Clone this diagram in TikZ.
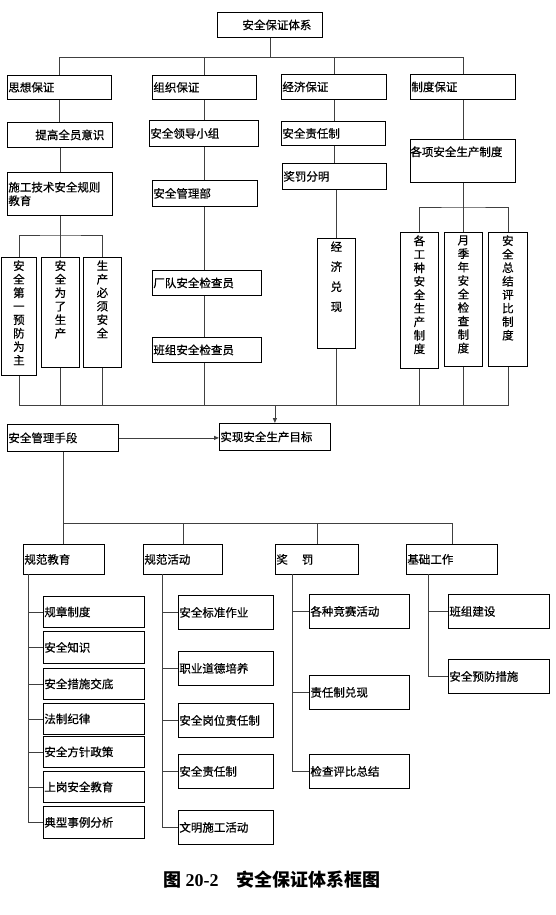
\documentclass[tikz,border=0pt]{standalone}
\usepackage{fontspec}
\newfontfamily\cjk[FakeBold=0.6]{Noto Sans CJK SC}
\newfontfamily\cjkcap{Noto Sans CJK SC}
\newfontfamily\capnum{Liberation Serif}
\usetikzlibrary{arrows.meta}

\begin{document}
\begin{tikzpicture}[x=1pt, y=-1pt,
  every node/.style={font=\cjk\fontsize{11.5pt}{13.5pt}\selectfont},
  box/.style 2 args={draw, line width=0.8pt, anchor=north west, inner xsep=1pt,
    inner ysep=0pt, align=left, text width=#1, minimum height=#2},
  pbox/.style={draw, line width=0.8pt, anchor=north west, inner sep=0pt},
  conn/.style={draw=black!75, line width=0.8pt},
  >={Triangle[length=5pt, width=4pt]}]
\useasboundingbox (0,0) rectangle (555,915);
% ---------------- upper part: guarantee system ----------------
\node[box={103pt}{25pt}] (top) at (217,12) {\hspace*{24pt}安全保证体系};
\node[box={102pt}{24pt}] (sx) at (7,75) {思想保证};
\node[box={102pt}{24pt}] (zz) at (152,75) {组织保证};
\node[box={103pt}{25pt}] (jj) at (281,74) {经济保证};
\node[box={103pt}{25pt}] (zd) at (410,74) {制度保证};
\node[box={103pt}{25pt}] (tg) at (7,122) {\hspace*{27pt}提高全员意识};
\node[box={107pt}{26pt}] (ld) at (149,120) {安全领导小组};
\node[box={102pt}{24pt}] (aq) at (281,121) {安全责任制};
\node[pbox] (gx) at (410,139) {\parbox[c][43pt][t]{105pt}{\vspace*{7pt}各项安全生产制度}};
\node[box={103pt}{43pt}] (sg) at (7,172) {施工技术安全规则\\教育};
\node[box={103pt}{26pt}] (gl) at (152,180) {安全管理部};
\node[box={102pt}{26pt}] (jf) at (282,163) {奖罚分明};
\node[pbox] (v1) at (1,257) {\parbox[c][118pt][t]{35pt}{\centering\vspace*{3pt}安\\全\\第\\一\\预\\防\\为\\主}};
\node[pbox] (v2) at (41,257) {\parbox[c][110pt][t]{38pt}{\centering\vspace*{3pt}安\\全\\为\\了\\生\\产}};
\node[pbox] (v3) at (83,257) {\parbox[c][110pt][t]{38pt}{\centering\vspace*{3pt}生\\产\\必\\须\\安\\全}};
\node[box={107pt}{25pt}] (cd) at (152,270) {厂队安全检查员};
\node[box={107pt}{25pt}] (bz) at (152,337) {班组安全检查员};
\node[pbox] (jd) at (317,238) {\parbox[c][110pt][t]{38pt}{\centering\vspace*{3pt}经\\[6.5pt]济\\[6.5pt]兑\\[6.5pt]现}};
\node[pbox] (z1) at (400,232) {\parbox[c][136pt][t]{38pt}{\centering\vspace*{3pt}各\\工\\种\\安\\全\\生\\产\\制\\度}};
\node[pbox] (z2) at (444,232) {\parbox[c][134pt][t]{38pt}{\centering\vspace*{3pt}月\\季\\年\\安\\全\\检\\查\\制\\度}};
\node[pbox] (z3) at (488,232) {\parbox[c][134pt][t]{39pt}{\centering\vspace*{3pt}安\\全\\总\\结\\评\\比\\制\\度}};
% ---------------- middle ----------------
\node[box={109pt}{27pt}] (gs) at (7,424) {安全管理手段};
\node[box={109pt}{27pt}] (mb) at (219,423) {实现安全生产目标};
% ---------------- lower part: means ----------------
\node[box={79pt}{30pt}] (gj) at (23,544) {规范教育};
\node[box={77pt}{30pt}] (gh) at (143,544) {规范活动};
\node[box={81pt}{30pt}] (jc) at (275,544) {奖\hspace{14pt}罚};
\node[box={89pt}{30pt}] (jg) at (406,544) {基础工作};
\node[box={99pt}{31pt}] (c1) at (43,596) {规章制度};
\node[box={99pt}{32pt}] (c2) at (43,631) {安全知识};
\node[box={99pt}{31pt}] (c3) at (43,668) {安全措施交底};
\node[box={99pt}{31pt}] (c4) at (43,703) {法制纪律};
\node[box={99pt}{31pt}] (c5) at (43,736) {安全方针政策};
\node[box={99pt}{31pt}] (c6) at (43,771) {上岗安全教育};
\node[box={99pt}{32pt}] (c7) at (43,806) {典型事例分析};
\node[box={93pt}{34pt}] (d1) at (178,595) {安全标准作业};
\node[box={93pt}{34pt}] (d2) at (178,651) {职业道德培养};
\node[box={93pt}{34pt}] (d3) at (178,703) {安全岗位责任制};
\node[box={93pt}{34pt}] (d4) at (178,754) {安全责任制};
\node[box={93pt}{34pt}] (d5) at (178,810) {文明施工活动};
\node[box={98pt}{34pt}] (e1) at (309,594) {各种竞赛活动};
\node[box={98pt}{34pt}] (e2) at (309,675) {责任制兑现};
\node[box={98pt}{34pt}] (e3) at (309,754) {检查评比总结};
\node[box={99pt}{34pt}] (f1) at (448,594) {班组建设};
\node[box={99pt}{34pt}] (f2) at (448,659) {安全预防措施};
\node[font=\cjkcap\bfseries\fontsize{18pt}{20pt}\selectfont] (cap) at (272,880)
  {图 {\capnum 20-2}\quad 安全保证体系框图};
% ---------------- connectors ----------------
\coordinate (b1) at (268,57);
\draw[conn] (top.south) -- (top.south |- b1);
\draw[conn] (sx.north) -- (sx.north |- b1) -| (zd.north);
\draw[conn] (zz.north) -- (zz.north |- b1);
\draw[conn] (jj.north) -- (jj.north |- b1);
\draw[conn] (sx.south) -- (sx.south |- tg.north);
\draw[conn] (tg.south) -- (tg.south |- sg.north);
\coordinate (b3) at (60,235);
\draw[conn] (sg.south) -- (sg.south |- b3);
\draw[conn] (v1.north) |- (b3) -| (v3.north);
\draw[conn] (v2.north) -- (v2.north |- b3);
\draw[conn] (zz.south) -- (zz.south |- ld.north);
\draw[conn] (zz.south |- ld.south) -- (zz.south |- gl.north);
\draw[conn] (zz.south |- gl.south) -- (zz.south |- cd.north);
\draw[conn] (zz.south |- cd.south) -- (zz.south |- bz.north);
\draw[conn] (jj.south) -- (jj.south |- aq.north);
\draw[conn] (jj.south |- aq.south) -- (jj.south |- jf.north);
\draw[conn] (jd.north |- jf.south) -- (jd.north);
\draw[conn] (zd.south) -- (zd.south |- gx.north);
\coordinate (b5) at (463,207);
\draw[conn] (gx.south) -- (gx.south |- b5);
\draw[conn] (z1.north) |- (b5) -| (z3.north);
\draw[conn] (z2.north) -- (z2.north |- b5);
\coordinate (b2) at (275,405);
\draw[conn] (v1.south) |- (z3.south |- b2) -- (z3.south);
\foreach \n in {v2,v3,jd,z1,z2} \draw[conn] (\n.south) -- (\n.south |- b2);
\draw[conn] (zz.south |- bz.south) -- (zz.south |- b2);
\draw[conn, ->] (mb.north |- b2) -- (mb.north);
\draw[conn, ->] (gs) -- (gs -| mb.west);
\coordinate (b4) at (63,523);
\draw[conn] (gs.south) -- (gs.south |- gj.north);
\draw[conn] (gs.south |- b4) -| (jg.north);
\draw[conn] (gh.north) -- (gh.north |- b4);
\draw[conn] (jc.north) -- (jc.north |- b4);
\coordinate (s1) at (28,574);
\coordinate (s2) at (162,574);
\coordinate (s3) at (292,574);
\coordinate (s4) at (428,574);
\draw[conn] (s1) |- (c7.west);
\foreach \n in {c1,c2,c3,c4,c5,c6} \draw[conn] (s1 |- \n.west) -- (\n.west);
\draw[conn] (s2) |- (d5.west);
\foreach \n in {d1,d2,d3,d4} \draw[conn] (s2 |- \n.west) -- (\n.west);
\draw[conn] (s3) |- (e3.west);
\foreach \n in {e1,e2} \draw[conn] (s3 |- \n.west) -- (\n.west);
\draw[conn] (s4) |- (f2.west);
\draw[conn] (s4 |- f1.west) -- (f1.west);
\end{tikzpicture}
\end{document}
